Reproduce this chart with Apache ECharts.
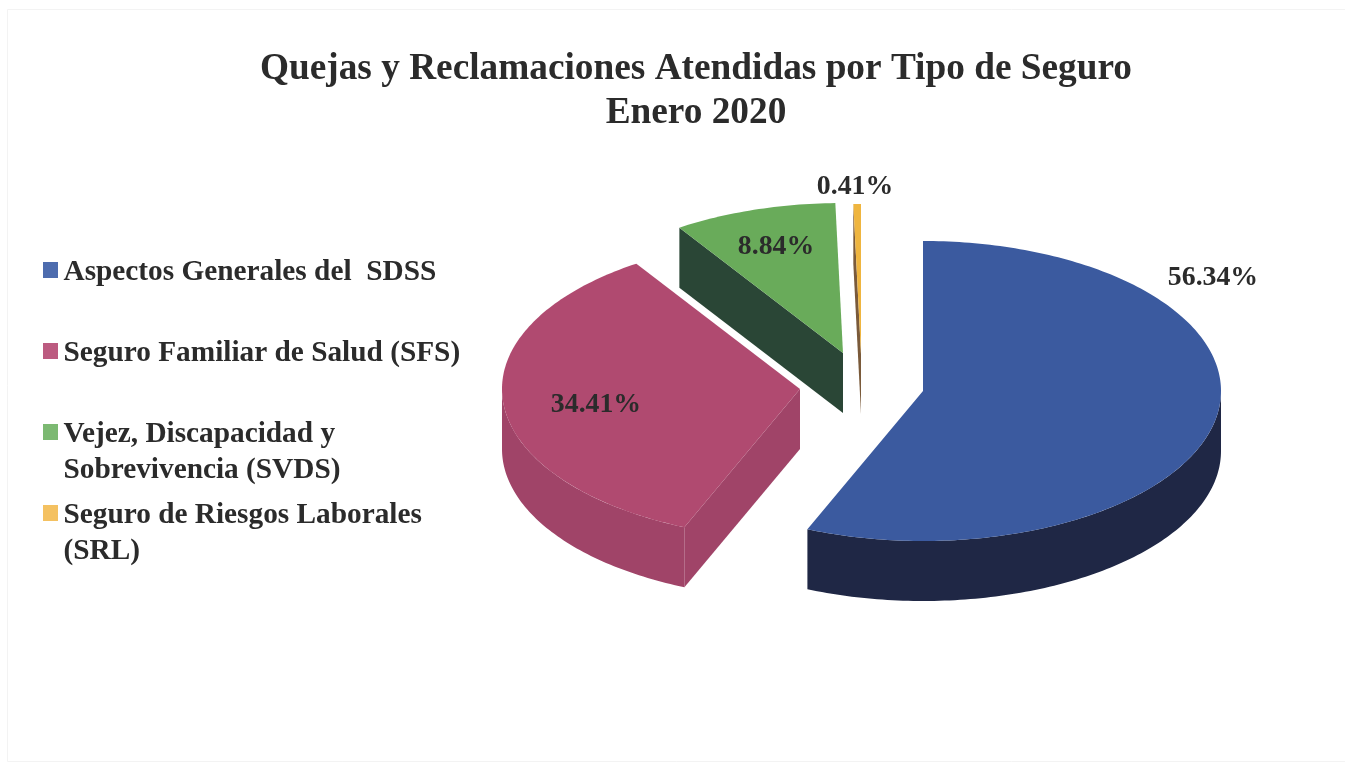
<!DOCTYPE html>
<html>
<head>
<meta charset="utf-8">
<title>Quejas y Reclamaciones</title>
<style>
  html, body { margin: 0; background: #fff; }
  #chart { width: 1345px; height: 763px; }
</style>
<script src="https://cdn.jsdelivr.net/npm/echarts@6/dist/echarts.min.js"></script>
</head>
<body>
<div id="chart"></div>
<script>
const categories = [
  'Aspectos Generales del  SDSS',
  'Seguro Familiar de Salud (SFS)',
  'Vejez, Discapacidad y\nSobrevivencia (SVDS)',
  'Seguro de Riesgos Laborales\n(SRL)'
]
const values = [56.34, 34.41, 8.84, 0.41]

const topColors = ['#3b5a9f', '#b04a70', '#69ab5a', '#efb53f']
const wallColors = ['#1f2745', '#a04468', '#2a4636', '#7a5a3a']
const legendColors = ['#4d6cae', '#bc5b80', '#7cb972', '#f4c161']

// where each slice's tip lands once exploded, and where its label sits
const tips = [[923, 391], [800, 389], [843, 353], [861, 354]]
const labelSpots = [[1213, 278], [596, 405], [776, 247], [855, 187]]
const radiusX = 298
const radiusY = 150
const depth = 60
const font = '"Liberation Serif", serif'
const total = values.reduce((a, b) => a + b, 0)

const angleAt = i => values.slice(0, i).reduce((a, b) => a + b, 0) / total * 360
const onRim = (tip, deg) => {
  const r = deg * Math.PI / 180
  return [tip[0] + radiusX * Math.sin(r), tip[1] - radiusY * Math.cos(r)]
}
const drop = p => [p[0], p[1] + depth]

const arcPoints = (tip, from, to) => {
  const pts = []
  const n = Math.max(2, Math.ceil(to - from))
  for (let k = 0; k <= n; k++) pts.push(onRim(tip, from + (to - from) * k / n))
  return pts
}

const renderSlice = i => (params, api) => {
  const tip = tips[i]
  const from = angleAt(i)
  const to = from + api.value(0) / total * 360
  const children = []
  const poly = (points, fill) => children.push({ type: 'polygon', shape: { points }, style: { fill } })

  // outer wall, only the half that faces the viewer
  const wallFrom = Math.max(from, 90)
  const wallTo = Math.min(to, 270)
  if (wallFrom < wallTo) {
    const rim = arcPoints(tip, wallFrom, wallTo)
    poly(rim.concat(rim.map(drop).reverse()), wallColors[i])
  }
  // cut faces
  const start = onRim(tip, from)
  const end = onRim(tip, to)
  if (Math.sin(from * Math.PI / 180) < 0) poly([tip, start, drop(start), drop(tip)], wallColors[i])
  if (Math.sin(to * Math.PI / 180) > 1e-6) poly([tip, end, drop(end), drop(tip)], wallColors[i])

  poly([tip].concat(arcPoints(tip, from, to)), topColors[i])

  children.push({
    type: 'text',
    x: labelSpots[i][0],
    y: labelSpots[i][1],
    style: {
      text: api.value(0).toFixed(2) + '%',
      font: 'bold 27.8px ' + font,
      fill: '#2b2b2b',
      align: 'center',
      verticalAlign: 'middle'
    }
  })
  return { type: 'group', children }
}

const option = {
  animation: false,
  backgroundColor: '#fff',
  title: {
    text: 'Quejas y Reclamaciones Atendidas por Tipo de Seguro\nEnero 2020',
    left: 691,
    top: 42,
    textAlign: 'center',
    textStyle: { fontFamily: font, fontWeight: 'bold', fontSize: 37.3, lineHeight: 44, color: '#2b2b2b' }
  },
  legend: {
    orient: 'vertical',
    left: 43,
    top: 254,
    padding: 0,
    itemGap: 9,
    itemWidth: 16,
    itemHeight: 72,
    // tall icon box so the square lines up with the first text line
    icon: 'path://M0 8H15V24H0ZM0 0L0 0M0 72L0 72',
    selectedMode: false,
    formatter: name => name.includes('\n') ? name : name + '\n ',
    textStyle: { fontFamily: font, fontWeight: 'bold', fontSize: 29.3, lineHeight: 36, color: '#2b2b2b' },
    data: categories.map((name, i) => ({ name, itemStyle: { color: legendColors[i] } }))
  },
  graphic: [{
    type: 'rect',
    silent: true,
    shape: { x: 7.5, y: 9.5, width: 1345, height: 752 },
    style: { fill: 'none', stroke: '#f3f3f3', lineWidth: 1 }
  }],
  series: categories.map((name, i) => ({
    type: 'custom',
    name,
    coordinateSystem: 'none',
    silent: true,
    clip: false,
    itemStyle: { color: topColors[i] },
    renderItem: renderSlice(i),
    data: [values[i]]
  }))
}

echarts.init(document.getElementById('chart')).setOption(option)
</script>
</body>
</html>
